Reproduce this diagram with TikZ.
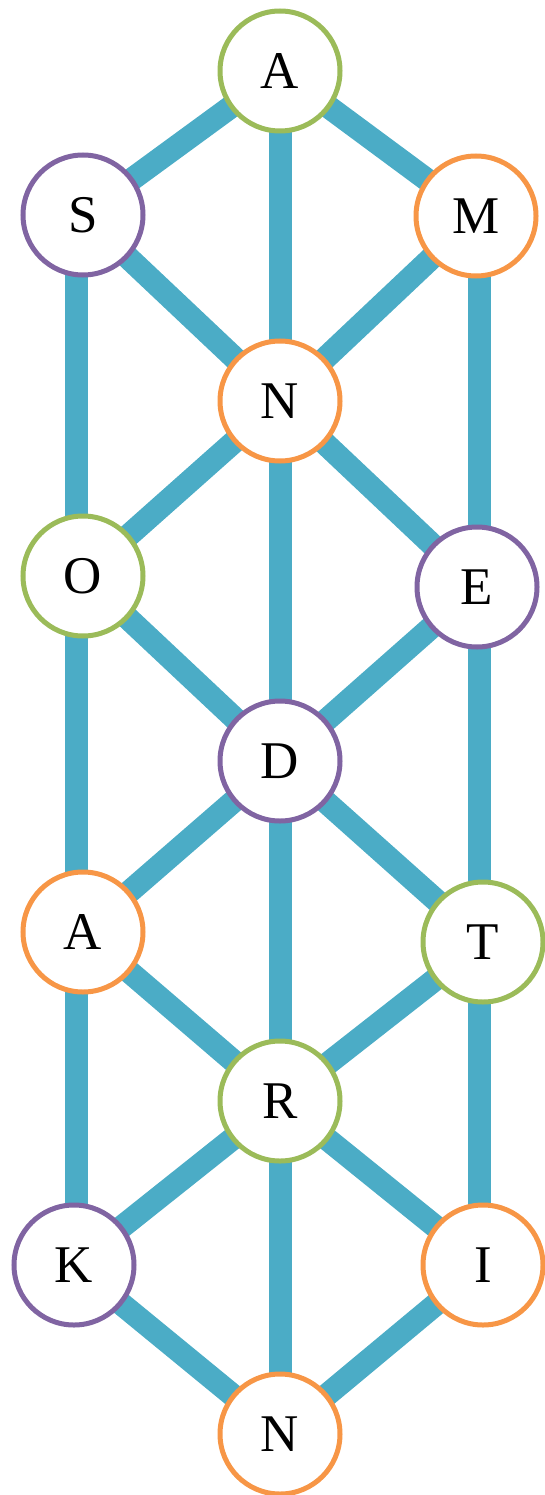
\documentclass[tikz,border=0pt]{standalone}
\usepackage{fontspec}
\setmainfont{Liberation Serif}
\usetikzlibrary{backgrounds}
\definecolor{cgreen}{HTML}{9BBB59}
\definecolor{corange}{HTML}{F79646}
\definecolor{cpurple}{HTML}{8064A2}
\definecolor{cblue}{HTML}{4BACC6}
\begin{document}
\begin{tikzpicture}[x=1pt,y=-1pt,
  letter/.style={circle,draw,fill=white,line width=5pt,minimum size=120pt,inner sep=0pt,
    font=\fontsize{53}{60}\selectfont},
  gn/.style={letter,draw=cgreen},
  on/.style={letter,draw=corange},
  pn/.style={letter,draw=cpurple},
  edge/.style={draw=cblue,line width=23pt}]
\useasboundingbox (0,0) rectangle (545,1495);
\node[gn] (a1) at (280,71) {A};
\node[pn] (s) at (83,215) {S};
\node[on] (m) at (476,216) {M};
\node[on] (n1) at (280,401) {N};
\node[gn] (o) at (83,576) {O};
\node[pn] (e) at (477,587) {E};
\node[pn] (d) at (280,761) {D};
\node[on] (a2) at (83,932) {A};
\node[gn] (t) at (483,942) {T};
\node[gn] (r) at (280,1101) {R};
\node[pn] (k) at (74,1265) {K};
\node[on] (i) at (483,1265) {I};
\node[on] (n2) at (280,1434) {N};
\coordinate (lx) at (76,0);
\coordinate (rx) at (479,0);
\begin{scope}[on background layer]
\draw[edge] (a1.center) -- (s.center);
\draw[edge] (a1.center) -- (n1.center);
\draw[edge] (a1.center) -- (m.center);
\draw[edge] (s.center) -- (n1.center);
\draw[edge] (m.center) -- (n1.center);
\draw[edge] (s.center -| lx) -- (o.center -| lx);
\draw[edge] (m.center -| rx) -- (e.center -| rx);
\draw[edge] (n1.center) -- (o.center);
\draw[edge] (n1.center) -- (e.center);
\draw[edge] (n1.center) -- (d.center);
\draw[edge] (o.center) -- (d.center);
\draw[edge] (e.center) -- (d.center);
\draw[edge] (o.center -| lx) -- (a2.center -| lx);
\draw[edge] (e.center -| rx) -- (t.center -| rx);
\draw[edge] (d.center) -- (a2.center);
\draw[edge] (d.center) -- (t.center);
\draw[edge] (d.center) -- (r.center);
\draw[edge] (a2.center) -- (r.center);
\draw[edge] (t.center) -- (r.center);
\draw[edge] (a2.center -| lx) -- (k.center -| lx);
\draw[edge] (t.center -| rx) -- (i.center -| rx);
\draw[edge] (r.center) -- (k.center);
\draw[edge] (r.center) -- (i.center);
\draw[edge] (r.center) -- (n2.center);
\draw[edge] (k.center) -- (n2.center);
\draw[edge] (i.center) -- (n2.center);
\end{scope}
\end{tikzpicture}
\end{document}
